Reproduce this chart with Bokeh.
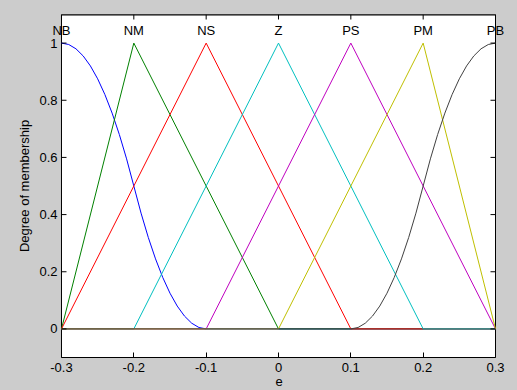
import math
from bokeh.plotting import figure
from bokeh.models import Label, FixedTicker, Range1d
from bokeh.embed import file_html
from bokeh.resources import INLINE

# ---- data ----
mf_names = ["NB", "NM", "NS", "Z", "PS", "PM", "PB"]
mf_peaks = [-0.3, -0.2, -0.1, 0.0, 0.1, 0.2, 0.3]
mf_colors = ["#0000ff", "#008000", "#ff0000", "#00bfbf", "#bf00bf", "#bfbf00", "#404040"]

nb_x = [-0.30, -0.29, -0.28, -0.27, -0.26, -0.25, -0.24, -0.23, -0.22, -0.21, -0.20,
        -0.19, -0.18, -0.17, -0.16, -0.15, -0.14, -0.13, -0.12, -0.11, -0.10, 0.30]
nb_y = [1.0, 0.995, 0.98, 0.955, 0.92, 0.875, 0.82, 0.755, 0.68, 0.595, 0.5,
        0.405, 0.32, 0.245, 0.18, 0.125, 0.08, 0.045, 0.02, 0.005, 0.0, 0.0]
nm_x = [-0.3, -0.2, 0.0, 0.3]
nm_y = [0.0, 1.0, 0.0, 0.0]
ns_x = [-0.3, -0.1, 0.1, 0.3]
ns_y = [0.0, 1.0, 0.0, 0.0]
z_x = [-0.3, -0.2, 0.0, 0.2, 0.3]
z_y = [0.0, 0.0, 1.0, 0.0, 0.0]
ps_x = [-0.3, -0.1, 0.1, 0.3]
ps_y = [0.0, 0.0, 1.0, 0.0]
pm_x = [-0.3, 0.0, 0.2, 0.3]
pm_y = [0.0, 0.0, 1.0, 0.0]
pb_x = [-0.30, 0.10, 0.11, 0.12, 0.13, 0.14, 0.15, 0.16, 0.17, 0.18, 0.19, 0.20,
        0.21, 0.22, 0.23, 0.24, 0.25, 0.26, 0.27, 0.28, 0.29, 0.30]
pb_y = [0.0, 0.0, 0.005, 0.02, 0.045, 0.08, 0.125, 0.18, 0.245, 0.32, 0.405, 0.5,
        0.595, 0.68, 0.755, 0.82, 0.875, 0.92, 0.955, 0.98, 0.995, 1.0]

x_ticks = [-0.3, -0.2, -0.1, 0.0, 0.1, 0.2, 0.3]
x_tick_labels = ["-0.3", "-0.2", "-0.1", "0", "0.1", "0.2", "0.3"]
y_ticks = [0.0, 0.2, 0.4, 0.6, 0.8, 1.0]
y_tick_labels = ["0", "0.2", "0.4", "0.6", "0.8", "1"]
x_min, x_max = -0.3, 0.3
y_min, y_max = -0.1, 1.1
label_level = 1.045

# layout: the bokeh frame is a little wider than the axes box so the
# edge labels (NB, PB) can overhang the box as in the original
x_pad_left, x_pad_right = 0.0221, 0.0235

FONT = "Liberation Sans"
FS = "13px"
GRAY = "#cccccc"

p = figure(width=517, height=390, output_backend="svg", toolbar_location=None,
           x_range=Range1d(x_min - x_pad_left, x_max + x_pad_right),
           y_range=Range1d(y_min, y_max),
           min_border_left=45, min_border_right=5, min_border_top=14, min_border_bottom=33,
           background_fill_color=GRAY, border_fill_color=GRAY,
           outline_line_color=None)
p.grid.visible = False

# white axes box
p.quad(left=[x_min], right=[x_max], bottom=[y_min], top=[y_max],
       fill_color="white", line_color="black", line_width=1)
p.line([x_min, x_max], [y_max, y_max], line_color="black", line_width=2)

curves = [(nb_x, nb_y), (nm_x, nm_y), (ns_x, ns_y), (z_x, z_y), (ps_x, ps_y), (pm_x, pm_y), (pb_x, pb_y)]
for (xs, ys), c in zip(curves, mf_colors):
    p.line(xs, ys, line_color=c, line_width=1)

# inward ticks on the top, left and right edges of the box
p.ray(x=x_ticks, y=[y_max] * len(x_ticks), length=5, length_units="screen",
      angle=-math.pi / 2, line_color="black", line_width=1)
p.ray(x=[x_max] * len(y_ticks), y=y_ticks, length=5, length_units="screen",
      angle=math.pi, line_color="black", line_width=1)
p.ray(x=[x_min] * len(y_ticks), y=y_ticks, length=5, length_units="screen",
      angle=0, line_color="black", line_width=1)

for name, peak in zip(mf_names, mf_peaks):
    p.add_layout(Label(x=peak, y=label_level, text=name, text_align="center",
                       text_baseline="middle", text_font=FONT, text_font_size=FS,
                       text_color="black"))


def style_axis(ax, ticks, overrides):
    ax.ticker = FixedTicker(ticks=ticks)
    ax.minor_tick_line_color = None
    ax.major_tick_in = 5
    ax.major_tick_out = 0
    ax.major_tick_line_color = "black"
    ax.axis_line_color = "black"
    ax.major_label_text_font = FONT
    ax.major_label_text_color = "black"
    ax.major_label_text_font_size = FS
    ax.major_label_overrides = overrides
    ax.axis_label_text_font = FONT
    ax.axis_label_text_font_size = FS
    ax.axis_label_text_font_style = "normal"
    ax.axis_label_text_color = "black"


xa = p.xaxis[0]
style_axis(xa, x_ticks, {t: l for t, l in zip(x_ticks, x_tick_labels)})
xa.bounds = (x_min, x_max)
xa.axis_label = "e"
xa.major_label_standoff = 5
xa.axis_label_standoff = 2

ya = p.yaxis[0]
style_axis(ya, y_ticks, {t: l for t, l in zip(y_ticks, y_tick_labels)})
ya.axis_line_color = None
ya.major_tick_line_color = None
ya.axis_label = "Degree of membership"
ya.major_label_standoff = -12
ya.axis_label_standoff = 4

html = file_html(p, INLINE)
html = html.replace("</head>", "<style>html,body{margin:0;padding:0;background:#cccccc;overflow:hidden;}</style></head>", 1)
open("out.html", "w").write(html)
